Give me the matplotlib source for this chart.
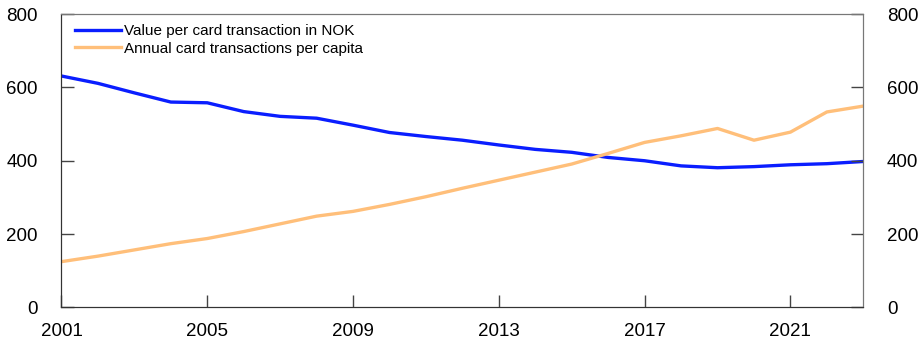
import matplotlib
matplotlib.use('Agg')
import matplotlib.pyplot as plt

plt.rcParams['font.family'] = ['Liberation Sans', 'DejaVu Sans']

years = list(range(2001, 2024))
value_per_txn = [631, 611, 585, 560, 558, 534, 521, 516, 497, 477, 466, 456,
                 443, 431, 423, 409, 400, 386, 381, 384, 389, 392, 398]
txn_per_capita = [125, 140, 157, 174, 188, 207, 228, 249, 262, 281, 302, 325,
                  347, 369, 391, 420, 450, 468, 488, 456, 478, 533, 549]
x_ticks = [2001, 2005, 2009, 2013, 2017, 2021]
y_ticks = [0, 200, 400, 600, 800]

fig = plt.figure(figsize=(9.19, 3.45), dpi=100)
ax = fig.add_axes([0.0669, 0.1087, 0.8725, 0.8507])

ax.plot(years, value_per_txn, color='#0a1eff', linewidth=2.4,
        label='Value per card transaction in NOK')
ax.plot(years, txn_per_capita, color='#ffbf7a', linewidth=2.4,
        label='Annual card transactions per capita')

ax.set_xlim(2001, 2023)
ax.set_ylim(0, 800)
ax.set_xticks(x_ticks)
ax.set_yticks(y_ticks)
ax.tick_params(axis='both', direction='in', length=9, width=1, colors='#444444',
               labelcolor='black', labelsize=13.5)
ax.tick_params(axis='x', pad=11)
ax.tick_params(axis='y', pad=17)

# right axis mirrors the left one
ax2 = ax.twinx()
ax2.set_ylim(0, 800)
ax2.set_yticks(y_ticks)
ax2.tick_params(axis='y', direction='in', length=9, width=1, colors='#444444',
                labelcolor='black', labelsize=13.5, pad=17)

for a in (ax, ax2):
    a.spines['left'].set_color('#333333')
    a.spines['bottom'].set_color('#333333')
    a.spines['top'].set_color('#777777')
    a.spines['right'].set_color('#777777')

ax.legend(loc='upper left', frameon=False, fontsize=11, handlelength=3.0,
          handletextpad=0.2, labelspacing=0.22, borderaxespad=0.5,
          bbox_to_anchor=(0.0, 1.012))

plt.savefig('out.png', dpi=100)
plt.close()
